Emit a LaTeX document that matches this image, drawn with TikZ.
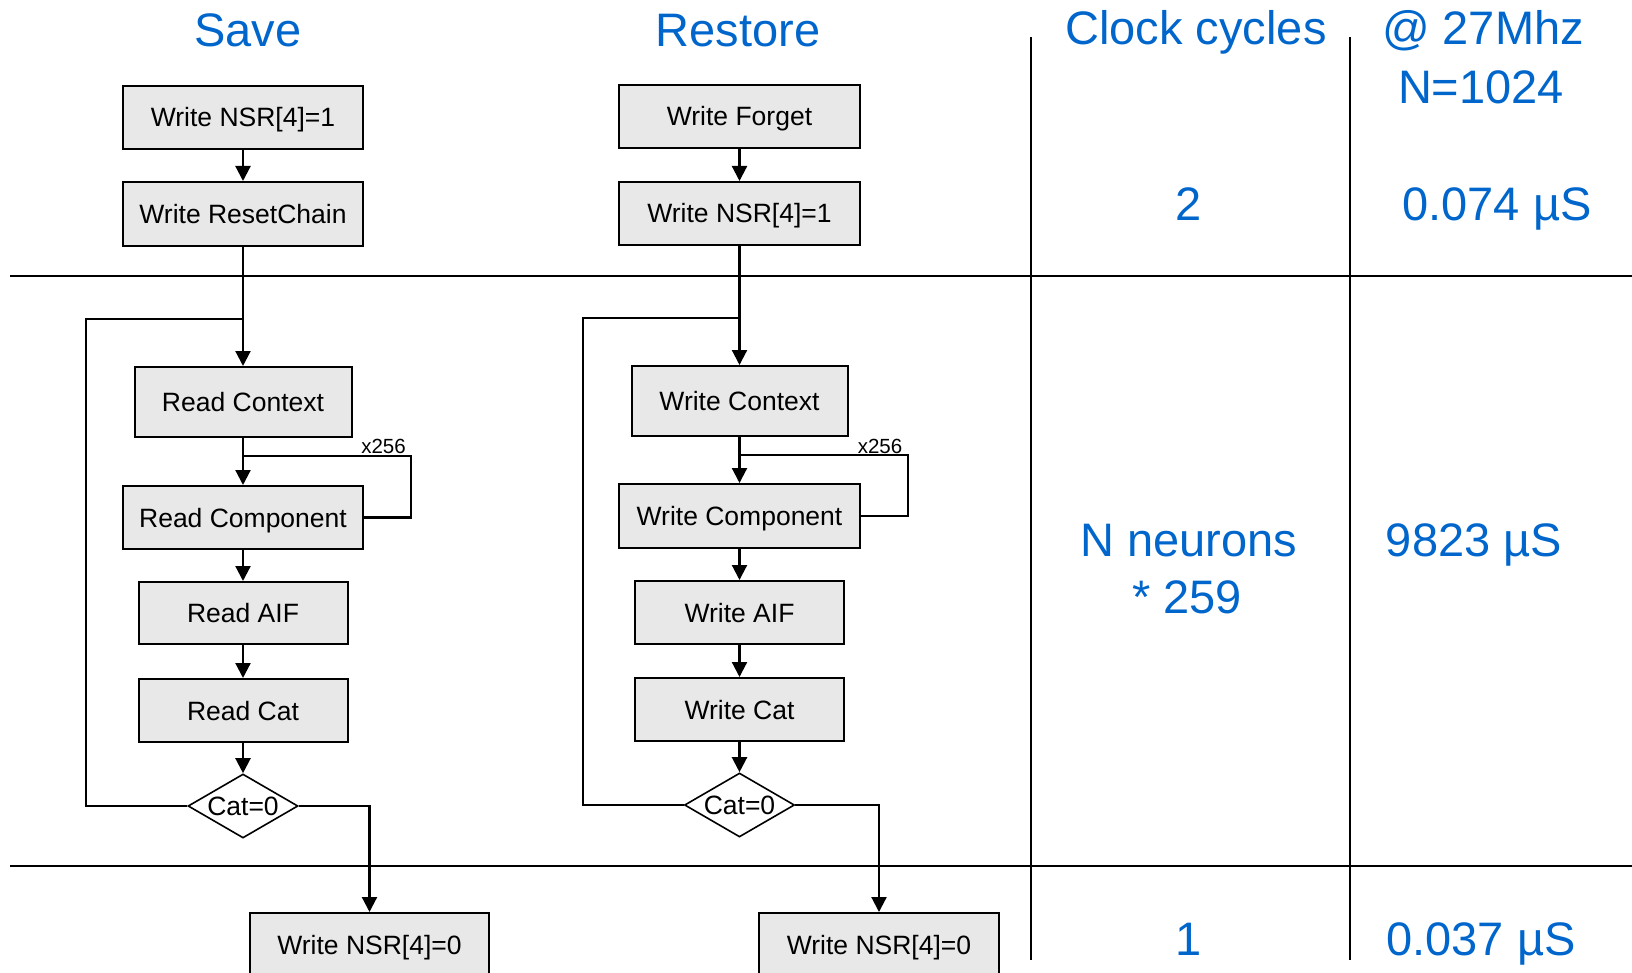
\documentclass[tikz,border=0pt]{standalone}
\usepackage{fontspec}
\setmainfont{Liberation Sans}
\usetikzlibrary{arrows.meta,shapes.geometric}
\definecolor{headblue}{HTML}{0066CC}
\definecolor{boxgray}{HTML}{E8E8E8}
\begin{document}
\begin{tikzpicture}[x=1pt,y=-1pt,
  procbox/.style={draw=black, line width=2pt, fill=boxgray, minimum height=63pt,
    inner sep=0pt, font=\fontsize{26.5}{31}\selectfont, text height=19pt, text depth=0pt},
  decision/.style={diamond, draw=black, line width=1.6pt, fill=white, minimum width=110pt,
    minimum height=64pt, inner sep=0pt, aspect=1.72, font=\fontsize{26.5}{31}\selectfont},
  flow/.style={line width=2.2pt, -{Triangle[length=15pt,width=15pt]}},
  plain/.style={line width=2.2pt},
  rule/.style={line width=2pt},
  head/.style={text=headblue, font=\fontsize{47}{56}\selectfont, anchor=base, inner sep=0pt},
  tag/.style={font=\fontsize{20.5}{24}\selectfont, anchor=base, inner sep=0pt}
]
\useasboundingbox (0,0) rectangle (1632,973);

% ---- table rules ----
\draw[rule] (10,276) -- (1632,276);
\draw[rule] (10,866) -- (1632,866);
\draw[rule] (1031,37) -- (1031,960);
\draw[rule] (1350,37) -- (1350,960);

% ---- headings ----
\node[head] (hsave) at (248,47) {Save};
\node[head] (hrest) at (738,47) {Restore};
\node[head] (hclk) at (1196,45) {Clock cycles};
\node[head] (hfreq) at (1483,45) {@ 27Mhz};
\node[head] (hn) at (1481,104) {N=1024};

% ---- values ----
\node[head] (c1) at (1189,221) {2};
\node[head] (t1) at (1497,221) {0.074 µS};
\node[head] (c2a) at (1189,556) {N neurons};
\node[head] (c2b) at (1187,613) {* 259};
\node[head] (t2) at (1474,556) {9823 µS};
\node[head] (c3) at (1189,955) {1};
\node[head] (t3) at (1481,955) {0.037 µS};

% ---- save flow ----
\node[procbox, minimum width=240pt] (s1) at (243,117.5) {Write NSR[4]=1};
\node[procbox, minimum width=240pt, minimum height=64pt] (s2) at (243,214) {Write ResetChain};
\node[procbox, minimum width=217pt, minimum height=70pt] (s3) at (243,402) {Read Context};
\node[procbox, minimum width=240pt] (s4) at (243,517.5) {Read Component};
\node[procbox, minimum width=209pt, minimum height=62pt] (s5) at (243,613) {Read AIF};
\node[procbox, minimum width=209pt] (s6) at (243,710.5) {Read Cat};
\node[decision] (s7) at (243,806) {Cat=0};
\node[procbox, minimum width=239pt] (s8) at (369.5,944.5) {Write NSR[4]=0};

\coordinate (sjoin) at (243,319);
\coordinate (sback) at (86,319);
\coordinate (sbranch) at (243,456);
\coordinate (sturn) at (411,456);

\draw[flow] (s1) -- (s2);
\draw[flow] (s2) -- (s3);
\draw[plain] (s7.west) -| (sback) -- (sjoin);
\draw[flow] (s3) -- (s4);
\draw[plain] (s4.east) -| (sturn) -- (sbranch);
\node[tag] (sx) at (383.5,453) {x256};
\draw[flow] (s4) -- (s5);
\draw[flow] (s5) -- (s6);
\draw[flow] (s6) -- (s7);
\draw[flow] (s7.east) -| (s8.north);

% ---- restore flow ----
\node[procbox, minimum width=241pt] (r1) at (739.5,116.5) {Write Forget};
\node[procbox, minimum width=241pt] (r2) at (739.5,213.5) {Write NSR[4]=1};
\node[procbox, minimum width=216pt, minimum height=70pt] (r3) at (739.5,401) {Write Context};
\node[procbox, minimum width=241pt, minimum height=64pt] (r4) at (739.5,516) {Write Component};
\node[procbox, minimum width=209pt] (r5) at (739.5,612.5) {Write AIF};
\node[procbox, minimum width=209pt] (r6) at (739.5,709.5) {Write Cat};
\node[decision] (r7) at (739.5,805) {Cat=0};
\node[procbox, minimum width=240pt] (r8) at (879,944.5) {Write NSR[4]=0};

\coordinate (rjoin) at (739.5,318);
\coordinate (rback) at (583,318);
\coordinate (rbranch) at (739.5,455);
\coordinate (rturn) at (908,455);

\draw[flow] (r1) -- (r2);
\draw[flow] (r2) -- (r3);
\draw[plain] (r7.west) -| (rback) -- (rjoin);
\draw[flow] (r3) -- (r4);
\draw[plain] (r4.east) -| (rturn) -- (rbranch);
\node[tag] (rx) at (880,453) {x256};
\draw[flow] (r4) -- (r5);
\draw[flow] (r5) -- (r6);
\draw[flow] (r6) -- (r7);
\draw[flow] (r7.east) -| (r8.north);
\end{tikzpicture}
\end{document}
